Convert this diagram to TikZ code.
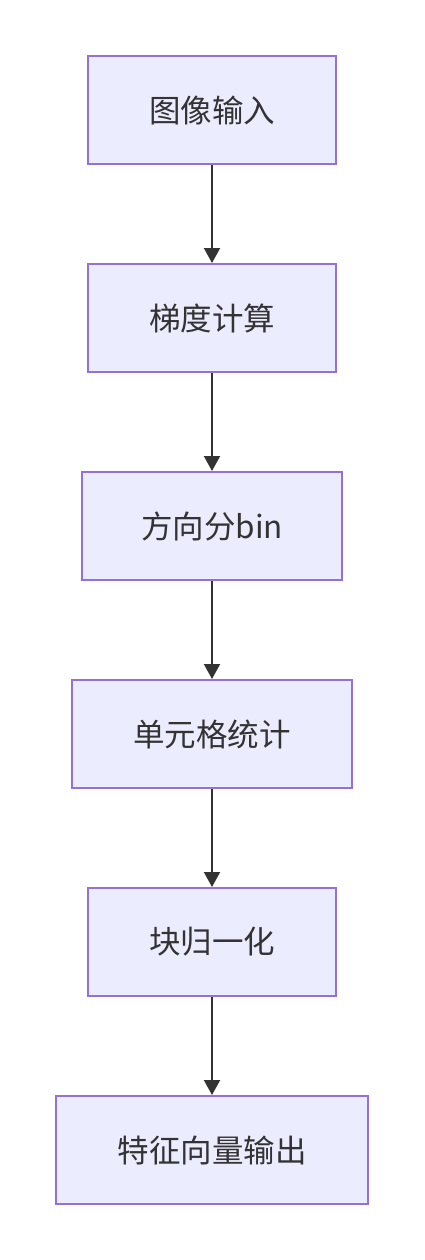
\documentclass[tikz,border=0pt]{standalone}
\usepackage{fontspec}
\setmainfont{Noto Sans CJK SC}
\usetikzlibrary{arrows.meta}
\definecolor{boxfill}{HTML}{ECECFF}
\definecolor{boxline}{HTML}{9370DB}
\definecolor{ink}{HTML}{333333}
\tikzset{
  stepbox/.style={draw=boxline, fill=boxfill, line width=2pt, minimum height=108pt,
    inner xsep=0pt, text=ink, font=\fontsize{31.5pt}{36pt}\selectfont},
  flow/.style={draw=ink, line width=2pt, -{Triangle[width=16pt,length=15pt]}}
}
\begin{document}
\begin{tikzpicture}[x=1pt, y=-1pt]
            \useasboundingbox (0,0) rectangle (424,1260);
            \node[stepbox, minimum width=248pt] (input) at (212,110) {图像输入};
            \node[stepbox, minimum width=248pt] (grad) at (212,318) {梯度计算};
            \node[stepbox, minimum width=260pt] (bins) at (212,526) {方向分bin};
            \node[stepbox, minimum width=280pt] (cell) at (212,734) {单元格统计};
            \node[stepbox, minimum width=248pt] (block) at (212,942) {块归一化};
            \node[stepbox, minimum width=312pt] (output) at (212,1150) {特征向量输出};
            \draw[flow] (input)--(grad);
            \draw[flow] (grad)--(bins);
            \draw[flow] (bins)--(cell);
            \draw[flow] (cell)--(block);
            \draw[flow] (block)--(output);
      \end{tikzpicture}
\end{document}
